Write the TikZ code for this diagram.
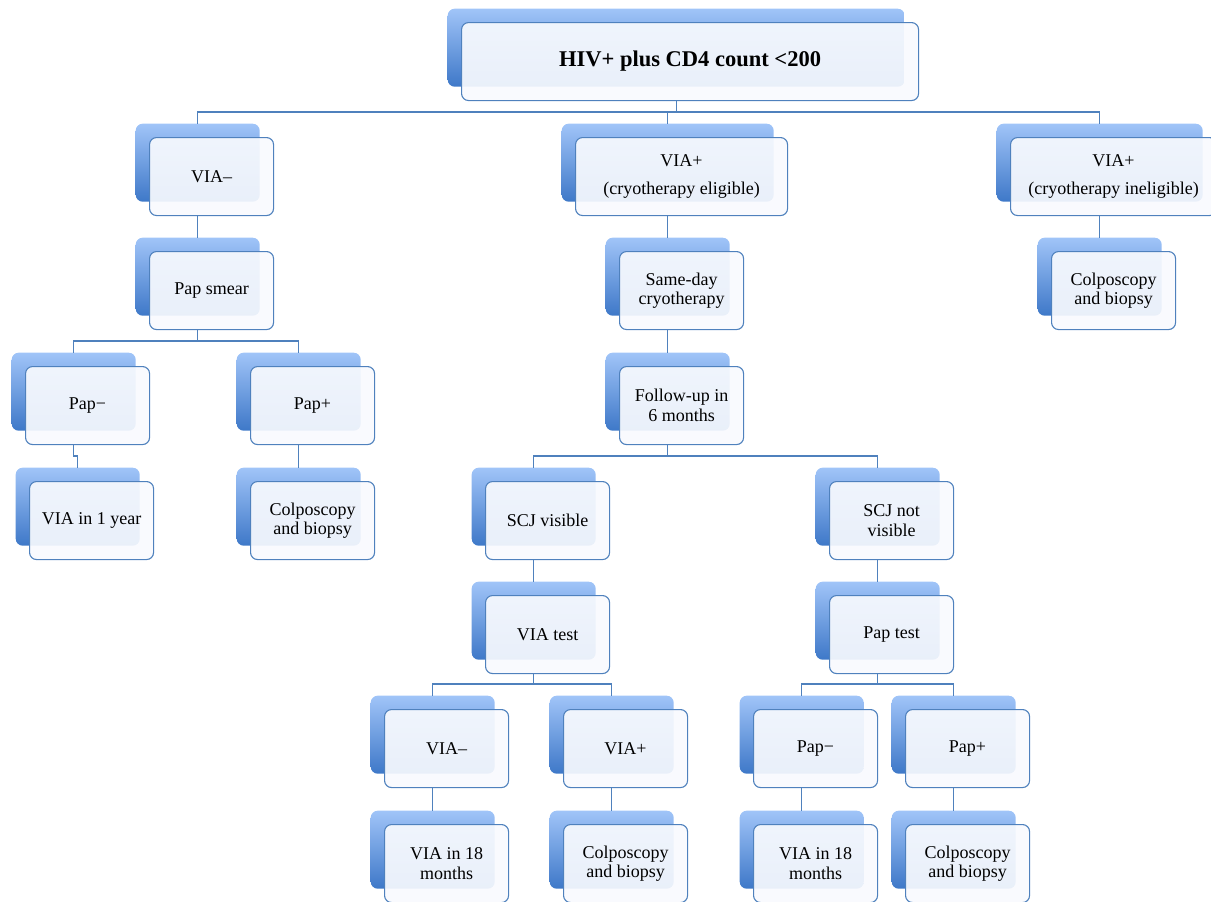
\documentclass[tikz,border=0pt]{standalone}
\usepackage{fontspec}
\setmainfont{Liberation Serif}
\definecolor{bord}{RGB}{79,129,189}
\definecolor{backtop}{RGB}{160,196,248}
\definecolor{backbot}{RGB}{62,120,200}
\definecolor{frontfill}{RGB}{248,250,254}
\tikzset{
  backbox/.style={rectangle, rounded corners=7pt, top color=backtop, bottom color=backbot, draw=none, inner sep=0pt, anchor=north west},
  frontbox/.style={rectangle, rounded corners=7pt, draw=bord, line width=1.1pt, fill=frontfill, fill opacity=0.92, text opacity=1, inner sep=0pt, anchor=north west, align=center, font=\fontsize{18}{19.5}\selectfont},
  conn/.style={draw=bord, line width=1.3pt},
}
\newcommand\bx[6]{%
  \node[backbox, minimum width=#4pt, minimum height=#5pt] (#1b) at ({#2-13.5},{#3-13.5}) {};
  \node[frontbox, minimum width=#4pt, minimum height=#5pt] (#1) at (#2,#3) {#6};
}
\newcommand\conn[2]{\draw[conn] (#1b.south |- #1.south) |- ([yshift=11.5pt]#2b.north) -- (#2b.north);}
\begin{document}
\begin{tikzpicture}[x=1pt,y=-1pt]
\useasboundingbox (0,0) rectangle (1211,902);
\clip (0,0) rectangle (1211,902);
% row 0
\bx{top}{461}{22}{457}{78}{\bfseries\fontsize{22.5}{24}\selectfont HIV+ plus CD4 count <200}
% row 1
\bx{viam}{149}{137}{124}{78}{VIA–}
\bx{viape}{575}{137}{212}{78}{VIA+\\[8pt](cryotherapy eligible)}
\bx{viapi}{1010}{137}{206}{78}{VIA+\\[8pt](cryotherapy ineligible)}
% row 2
\bx{papsmear}{149}{251}{124}{78}{Pap smear}
\bx{sameday}{619}{251}{124}{78}{Same-day\\cryotherapy}
\bx{colpoR}{1051}{251}{124}{78}{Colposcopy\\and biopsy}
% row 3
\bx{papm}{25}{366}{124}{78}{Pap−}
\bx{papp}{250}{366}{124}{78}{Pap+}
\bx{follow}{619}{366}{124}{78}{Follow-up in\\6 months}
% row 4
\bx{via1}{29}{481}{124}{78}{VIA in 1 year}
\bx{colpoL}{250}{481}{124}{78}{Colposcopy\\and biopsy}
\bx{scjv}{485}{481}{124}{78}{SCJ visible}
\bx{scjn}{829}{481}{124}{78}{SCJ not\\visible}
% row 5
\bx{viatest}{485}{595}{124}{78}{VIA test}
\bx{paptest}{829}{595}{124}{78}{Pap test}
% row 6
\bx{viam2}{384}{709}{124}{78}{VIA–}
\bx{viap2}{563}{709}{124}{78}{VIA+}
\bx{papm2}{753}{709}{124}{78}{Pap−}
\bx{papp2}{905}{709}{124}{78}{Pap+}
% row 7
\bx{via18a}{384}{824}{124}{78}{VIA in 18\\months}
\bx{colpo2}{563}{824}{124}{78}{Colposcopy\\and biopsy}
\bx{via18b}{753}{824}{124}{78}{VIA in 18\\months}
\bx{colpo3}{905}{824}{124}{78}{Colposcopy\\and biopsy}
% connectors
\conn{top}{viam}
\conn{top}{viape}
\conn{top}{viapi}
\conn{viam}{papsmear}
\conn{viape}{sameday}
\conn{viapi}{colpoR}
\conn{papsmear}{papm}
\conn{papsmear}{papp}
\conn{papm}{via1}
\conn{papp}{colpoL}
\conn{sameday}{follow}
\conn{follow}{scjv}
\conn{follow}{scjn}
\conn{scjv}{viatest}
\conn{scjn}{paptest}
\conn{viatest}{viam2}
\conn{viatest}{viap2}
\conn{paptest}{papm2}
\conn{paptest}{papp2}
\conn{viam2}{via18a}
\conn{viap2}{colpo2}
\conn{papm2}{via18b}
\conn{papp2}{colpo3}
\end{tikzpicture}
\end{document}
